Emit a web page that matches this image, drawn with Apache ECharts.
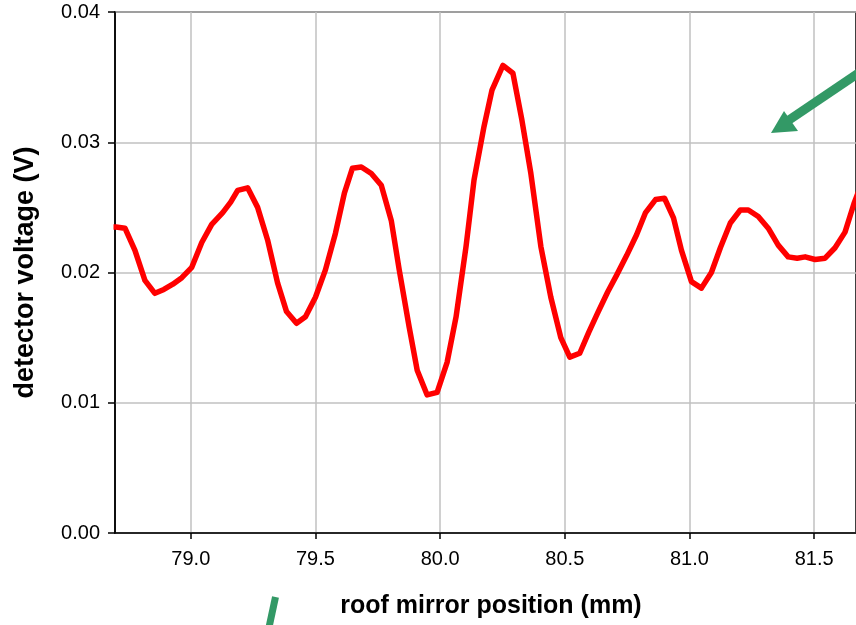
<!DOCTYPE html>
<html>
<head>
<meta charset="utf-8">
<script src="https://cdn.jsdelivr.net/npm/echarts@6/dist/echarts.min.js"></script>
<style>
  html, body { margin: 0; padding: 0; background: #fff; }
  #chart { width: 856px; height: 625px; }
</style>
</head>
<body>
<div id="chart"></div>
<script>
// roof mirror position (mm)
const positions = [
  78.690, 78.700, 78.736, 78.776, 78.816, 78.856, 78.892, 78.928, 78.964, 79.004,
  79.044, 79.084, 79.128, 79.160, 79.188, 79.228, 79.268, 79.308, 79.348, 79.384,
  79.424, 79.460, 79.500, 79.540, 79.580, 79.616, 79.648, 79.684, 79.724, 79.764,
  79.804, 79.836, 79.876, 79.908, 79.948, 79.988, 80.028, 80.064, 80.104, 80.136,
  80.176, 80.208, 80.252, 80.292, 80.328, 80.364, 80.404, 80.444, 80.484, 80.520,
  80.560, 80.596, 80.632, 80.672, 80.708, 80.748, 80.788, 80.824, 80.864, 80.900,
  80.936, 80.968, 81.008, 81.048, 81.088, 81.124, 81.164, 81.204, 81.236, 81.276,
  81.316, 81.356, 81.396, 81.432, 81.464, 81.504, 81.544, 81.584, 81.624, 81.660,
  81.700
];

// detector voltage (V)
const voltages = [
  0.0235, 0.0235, 0.0234, 0.0217, 0.0194, 0.0184, 0.0187, 0.0191, 0.0196, 0.0204,
  0.0223, 0.0237, 0.0246, 0.0254, 0.0263, 0.0265, 0.0250, 0.0225, 0.0192, 0.0170,
  0.0161, 0.0166, 0.0181, 0.0202, 0.0230, 0.0261, 0.0280, 0.0281, 0.0276, 0.0267,
  0.0240, 0.0202, 0.0158, 0.0125, 0.0106, 0.0108, 0.0131, 0.0166, 0.0220, 0.0271,
  0.0312, 0.0340, 0.0359, 0.0353, 0.0317, 0.0276, 0.0220, 0.0181, 0.0150, 0.0135,
  0.0138, 0.0154, 0.0169, 0.0185, 0.0198, 0.0213, 0.0229, 0.0246, 0.0256, 0.0257,
  0.0242, 0.0217, 0.0193, 0.0188, 0.0200, 0.0219, 0.0238, 0.0248, 0.0248, 0.0243,
  0.0234, 0.0221, 0.0212, 0.0211, 0.0212, 0.0210, 0.0211, 0.0219, 0.0231, 0.0253,
  0.0273
];

const xTicks = [79.0, 79.5, 80.0, 80.5, 81.0, 81.5];
const xRange = [78.696, 81.668];
const yRange = [0, 0.04];

const font = 'Liberation Sans, Arial, sans-serif';
const green = '#339966';

const chart = echarts.init(document.getElementById('chart'), null, { renderer: 'canvas' });

const points = positions.map((x, i) => [x, voltages[i]]);

const option = {
  backgroundColor: '#fff',
  animation: false,
  grid: {
    left: 115,
    top: 12,
    right: -2,
    bottom: 92,
    show: true,
    borderColor: '#000',
    borderWidth: 1.5,
    backgroundColor: 'transparent'
  },
  xAxis: {
    type: 'value',
    min: xRange[0],
    max: xRange[1],
    name: 'roof mirror position (mm)',
    nameLocation: 'middle',
    nameGap: 61,
    nameTextStyle: { fontFamily: font, fontSize: 25, fontWeight: 'bold', color: '#000', padding: [0, 0, 0, 11] },
    axisLine: { lineStyle: { color: '#000', width: 1.5 } },
    axisTick: { show: true, length: 6, customValues: xTicks, lineStyle: { color: '#000', width: 1.5 } },
    axisLabel: {
      customValues: xTicks,
      margin: 16,
      fontFamily: font,
      fontSize: 20,
      color: '#000',
      formatter: v => v.toFixed(1)
    },
    splitLine: { show: true, lineStyle: { color: '#c0c0c0', width: 1.5 } }
  },
  yAxis: {
    type: 'value',
    min: yRange[0],
    max: yRange[1],
    interval: 0.01,
    name: 'detector voltage (V)',
    nameLocation: 'middle',
    nameGap: 76,
    nameTextStyle: { fontFamily: font, fontSize: 27, fontWeight: 'bold', color: '#000' },
    axisLine: { show: true, lineStyle: { color: '#000', width: 1.5 } },
    axisTick: { show: true, length: 7, lineStyle: { color: '#000', width: 1.5 } },
    axisLabel: {
      margin: 15,
      fontFamily: font,
      fontSize: 20,
      color: '#000',
      formatter: v => v.toFixed(2)
    },
    splitLine: { show: true, lineStyle: { color: '#c0c0c0', width: 1.5 } }
  },
  series: [{
    type: 'line',
    data: points,
    showSymbol: false,
    smooth: false,
    clip: true,
    lineStyle: { color: '#ff0000', width: 5.5, join: 'round' }
  }],
  graphic: [
    // annotation arrow, top right
    {
      type: 'line',
      shape: { x1: 872, y1: 64, x2: 789, y2: 120 },
      style: { stroke: green, lineWidth: 9 },
      z: 100
    },
    {
      type: 'polygon',
      shape: { points: [[771, 133], [784, 111], [798, 131]] },
      style: { fill: green },
      z: 100
    },
    // annotation arrow shaft, bottom (head outside the frame)
    {
      type: 'line',
      shape: { x1: 275.5, y1: 597, x2: 268, y2: 632 },
      style: { stroke: green, lineWidth: 7 },
      z: 100
    }
  ]
};

chart.setOption(option);
</script>
</body>
</html>
